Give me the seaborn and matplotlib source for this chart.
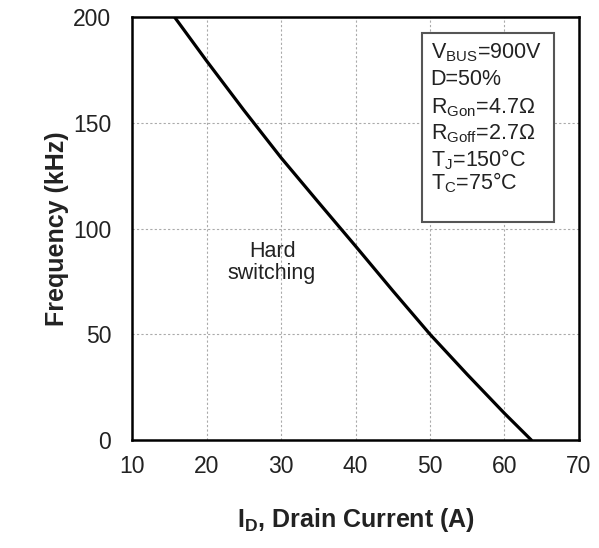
import matplotlib
matplotlib.use("Agg")
import matplotlib.pyplot as plt
from matplotlib.patches import Rectangle
import seaborn as sns
import pandas as pd

# Values
drain_current = [15.7, 20, 25, 30, 35, 40, 45, 50, 55, 60, 63.6]
frequency = [200, 179.3, 156, 133.5, 112.5, 91.7, 70.6, 50, 31, 12.6, 0]
x_ticks = [10, 20, 30, 40, 50, 60, 70]
y_ticks = [0, 50, 100, 150, 200]
conditions = [
    r"$\mathregular{V_{BUS}}$=900V",
    "D=50%",
    r"$\mathregular{R_{Gon}}$=4.7Ω",
    r"$\mathregular{R_{Goff}}$=2.7Ω",
    r"$\mathregular{T_{J}}$=150°C",
    r"$\mathregular{T_{C}}$=75°C",
]

sns.set_theme(style="white")
plt.rcParams["font.family"] = ["Liberation Sans", "DejaVu Sans"]
plt.rcParams["mathtext.fontset"] = "custom"
plt.rcParams["mathtext.rm"] = "Liberation Sans"

df = pd.DataFrame({"current": drain_current, "freq": frequency})

fig = plt.figure(figsize=(5.99, 5.48), dpi=100)
ax = fig.add_axes([0.2204, 0.197, 0.7462, 0.772])

sns.lineplot(data=df, x="current", y="freq", ax=ax, color="black", linewidth=2.3)

ax.set_xlim(10, 70)
ax.set_ylim(0, 200)
ax.set_xticks(x_ticks)
ax.set_yticks(y_ticks)
ax.tick_params(axis="both", labelsize=16.5, direction="inout", length=8, width=1,
               colors="#222222")
ax.tick_params(axis="x", pad=7)
ax.tick_params(axis="y", pad=11)
ax.grid(True, color="#aaaaaa", linestyle=(0, (2, 2)), linewidth=0.8)
for s in ax.spines.values():
    s.set_color("black")
    s.set_linewidth(1.8)

ax.set_xlabel(r"$\mathregular{I_D}$, Drain Current (A)", fontsize=18, fontweight="bold", labelpad=20)
ax.set_ylabel("Frequency (kHz)", fontsize=18, fontweight="bold", labelpad=3)
ax.xaxis.label.set_color("#222222")
ax.yaxis.label.set_color("#222222")

ax.text(28.8, 84, "Hard\nswitching", ha="center", va="center", fontsize=15.5,
        color="#222222", linespacing=1.05)

# conditions box
ax.add_patch(Rectangle((48.9, 103), 17.7, 89.4, facecolor="white", edgecolor="#555555",
                       linewidth=1.5, zorder=3))
line_y = [183, 170.5, 157, 145, 132.5, 121.5]
for txt, yy in zip(conditions, line_y):
    ax.text(50.1, yy, txt, ha="left", va="center", fontsize=15.5, color="#222222", zorder=4)

fig.savefig("out.png", dpi=100)
